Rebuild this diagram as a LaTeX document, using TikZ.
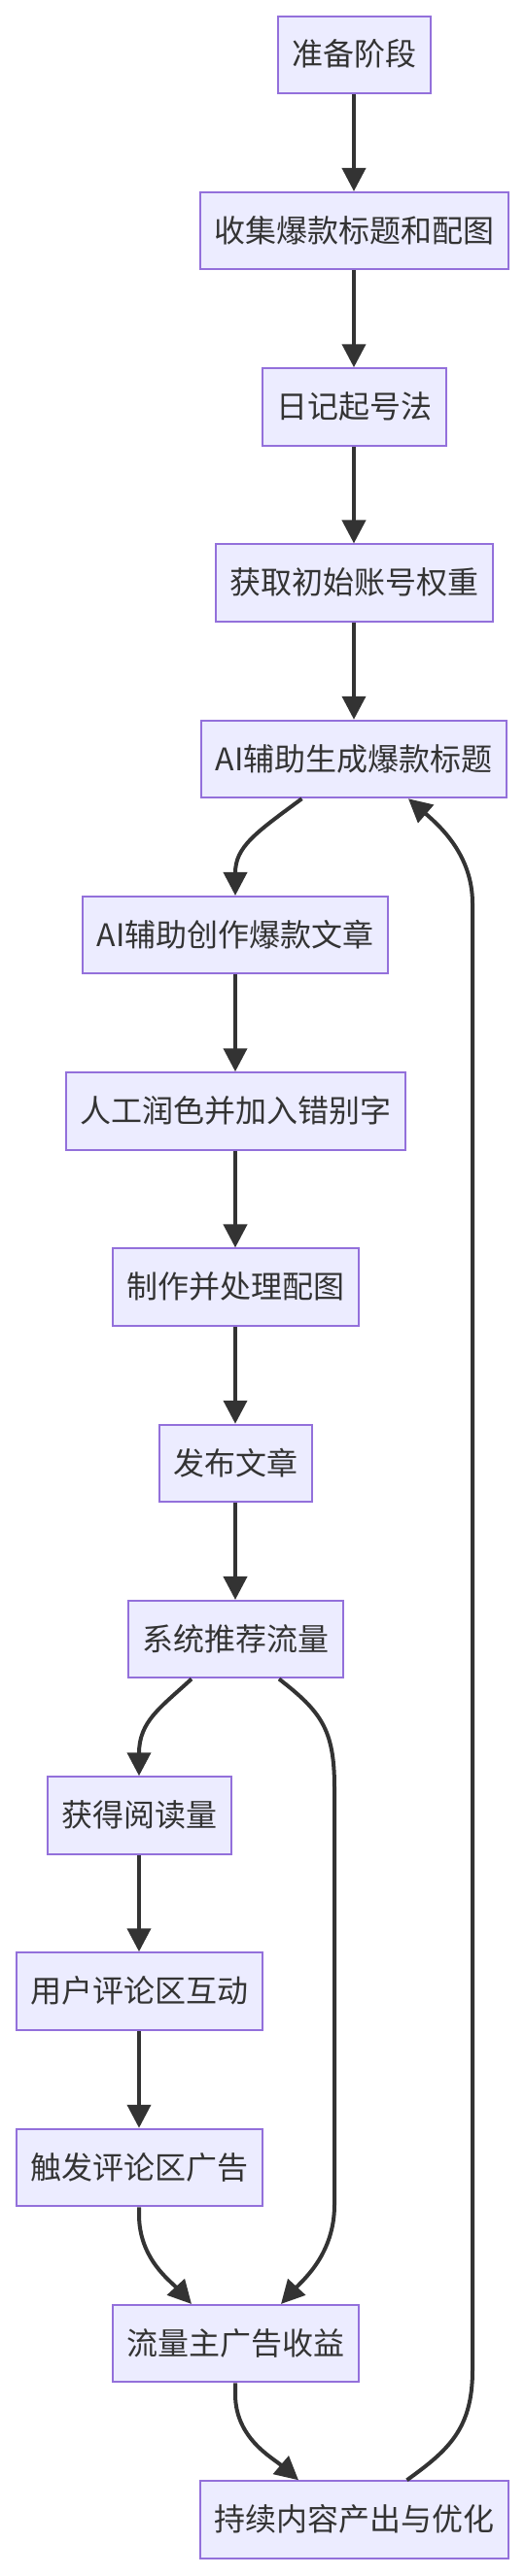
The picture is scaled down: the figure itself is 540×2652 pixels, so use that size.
\documentclass[tikz,border=0pt]{standalone}
\usepackage{fontspec}
\setmainfont{Noto Sans CJK SC}
\usetikzlibrary{arrows.meta,calc}
\definecolor{nodefill}{HTML}{ECECFF}
\definecolor{nodeborder}{HTML}{9370DB}
\definecolor{edgecol}{HTML}{333333}
\definecolor{textcol}{HTML}{333333}
\tikzset{
  stepbox/.style={draw=nodeborder, fill=nodefill, line width=2pt, inner xsep=14.5pt, inner ysep=0pt,
    minimum height=79.5pt, text height=26pt, text depth=3pt,
    font=\fontsize{32pt}{38pt}\selectfont, text=textcol},
  flow/.style={draw=edgecol, line width=4pt, -{Triangle[length=24pt,width=24pt]}}
}
\begin{document}
\begin{tikzpicture}[x=1pt,y=-1pt]
\useasboundingbox (0,0) rectangle (540,2652);
\node[stepbox] (n1)  at (364,56.5)   {准备阶段};
\node[stepbox] (n2)  at (364,237.7)  {收集爆款标题和配图};
\node[stepbox] (n3)  at (364,419)    {日记起号法};
\node[stepbox] (n4)  at (364,600.2)  {获取初始账号权重};
\node[stepbox] (n5)  at (364,781.5)  {AI辅助生成爆款标题};
\node[stepbox] (n6)  at (242,962.7)  {AI辅助创作爆款文章};
\node[stepbox] (n7)  at (242,1144)   {人工润色并加入错别字};
\node[stepbox] (n8)  at (242,1325.2) {制作并处理配图};
\node[stepbox] (n9)  at (242,1506.5) {发布文章};
\node[stepbox] (n10) at (242,1687.7) {系统推荐流量};
\node[stepbox] (n11) at (143,1869)   {获得阅读量};
\node[stepbox] (n12) at (143,2050)   {用户评论区互动};
\node[stepbox] (n13) at (143,2231.5) {触发评论区广告};
\node[stepbox] (n14) at (242,2412.7) {流量主广告收益};
\node[stepbox] (n15) at (364,2594)   {持续内容产出与优化};

\draw[flow] (n1) -- (n2);
\draw[flow] (n2) -- (n3);
\draw[flow] (n3) -- (n4);
\draw[flow] (n4) -- (n5);
\draw[flow] ($(n5.south)+(-53.5,0)$) .. controls (262,858) and (242,872) .. (n6.north);
\draw[flow] (n6) -- (n7);
\draw[flow] (n7) -- (n8);
\draw[flow] (n8) -- (n9);
\draw[flow] (n9) -- (n10);
\draw[flow] ($(n10.south)+(-45,0)$) .. controls (165,1758) and (143,1772) .. (n11.north);
\draw[flow] ($(n10.south)+(45,0)$) .. controls (330,1762) and (344,1780) .. (344,1840)
  -- (344,2270) .. controls (344,2320) and (312,2347) .. ($(n14.north)+(47,0)$);
\draw[flow] (n11) -- (n12);
\draw[flow] (n12) -- (n13);
\draw[flow] (n13.south) -- (143,2280) .. controls (143,2325) and (175,2348) .. ($(n14.north)+(-45,0)$);
\draw[flow] (n14.south) -- (242,2465) .. controls (242,2510) and (280,2530) .. ($(n15.north)+(-57,0)$);
\draw[flow] ($(n15.north)+(54.5,0)$) .. controls (462,2522) and (486,2500) .. (486,2440)
  -- (486,930) .. controls (486,880) and (452,850) .. ($(n5.south)+(56,0)$);
\end{tikzpicture}
\end{document}
